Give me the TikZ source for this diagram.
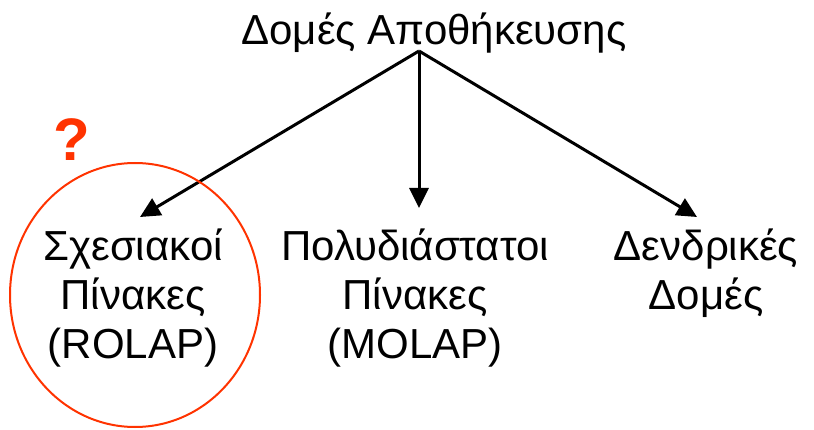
\documentclass[tikz,border=0pt]{standalone}
\usepackage{fontspec}
\setmainfont{Liberation Sans}
\usetikzlibrary{arrows.meta}
\definecolor{hl}{HTML}{FF3300}
\begin{document}
\begin{tikzpicture}[x=1pt,y=-1pt,
  lbl/.style={font=\fontsize{42}{49.5}\selectfont, align=center, inner sep=0pt, anchor=base},
  arr/.style={line width=3pt, -{Triangle[length=20pt,width=19pt]}},
  ring/.style={draw=hl, line width=2pt}]
\useasboundingbox (0,0) rectangle (814,430);
\node[lbl] (root) at (434,45) {Δομές Αποθήκευσης};
\node[lbl] (rolap) at (133,359) {Σχεσιακοί\\Πίνακες\\(ROLAP)};
\node[lbl] (molap) at (415,359) {Πολυδιάστατοι\\Πίνακες\\(MOLAP)};
\node[lbl] (tree) at (706,310) {Δενδρικές\\Δομές};
\coordinate (apex) at (419,51);
\coordinate (t1) at (140,217);
\coordinate (t2) at (419,208);
\coordinate (t3) at (697,217);
\draw[arr] (apex) -- (t1);
\draw[arr] (apex) -- (t2);
\draw[arr] (apex) -- (t3);
\draw[ring] (135,295) ellipse [x radius=125, y radius=132];
\node[font=\fontsize{60}{60}\selectfont\bfseries, text=hl, inner sep=0pt] (q) at (72,140) {?};
\end{tikzpicture}
\end{document}
